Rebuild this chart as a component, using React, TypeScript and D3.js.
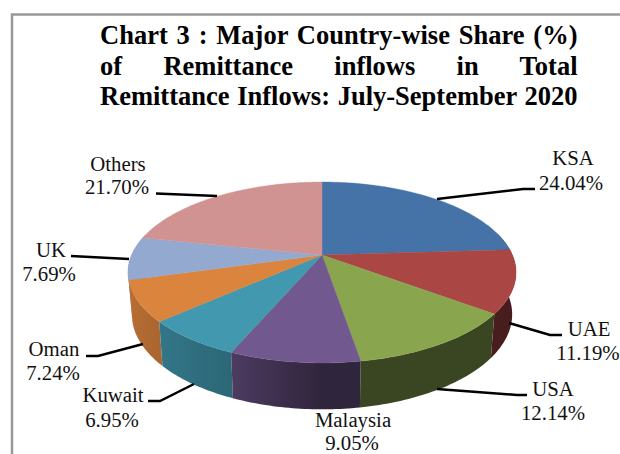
import React from "react";
import * as d3 from "d3";

const categories = ["KSA", "UAE", "USA", "Malaysia", "Kuwait", "Oman", "UK", "Others"];
const shares = [24.04, 11.19, 12.14, 9.05, 6.95, 7.24, 7.69, 21.7];
const shareLabels = ["24.04%", "11.19%", "12.14%", "9.05%", "6.95%", "7.24%", "7.69%", "21.70%"];
const colors = ["#4573a7", "#aa4644", "#89a54e", "#71588f", "#4198af", "#db843d", "#93a9cf", "#d19392"];
const titleLines = [
  "Chart 3 : Major Country-wise Share (%)",
  "of Remittance inflows in Total",
  "Remittance Inflows: July-September 2020",
];

// label placement: text centre, two baselines, leader polyline
const labelLayout: { x: number; x2: number; y1: number; y2: number; leader: [number, number][] }[] = [
  { x: 573, x2: 571, y1: 165, y2: 190, leader: [[437, 199], [523, 189], [535, 189]] },
  { x: 589, x2: 588, y1: 336, y2: 360, leader: [[509, 323], [550, 335], [562, 335]] },
  { x: 553, x2: 553, y1: 396, y2: 420, leader: [[437, 389], [517, 395], [527, 395]] },
  { x: 353, x2: 352, y1: 427, y2: 450, leader: [] },
  { x: 113, x2: 112, y1: 402, y2: 427, leader: [[194, 384], [160, 401], [148, 401]] },
  { x: 54, x2: 53, y1: 356, y2: 380, leader: [[143, 344], [98, 356], [86, 356]] },
  { x: 51, x2: 49, y1: 257, y2: 281, leader: [[129, 259], [71, 256]] },
  { x: 118, x2: 117, y1: 171, y2: 194, leader: [[217, 196], [156, 193.5]] },
];

const W = 620;
const H = 454;
const SERIF = "'Liberation Serif', serif";
const cx = 322;
const cy = 255;
const A = 190.4;
const B = 87.1;
const K = 0.193;
const DEPTH = 41;
const BOTTOM_X = 0.98;
const BOTTOM_Y = 1.05;

// perspective projection of the unit disc; angle 0 is up, clockwise
function top(a: number): [number, number] {
  const u = Math.sin(a);
  const v = -Math.cos(a);
  const w = 1 - K * v;
  return [cx + (A * u) / w, cy + (B * v) / w];
}
function bottom(a: number): [number, number] {
  const u = Math.sin(a);
  const v = -Math.cos(a);
  const w = 1 - K * v;
  return [cx + (BOTTOM_X * A * u) / w, cy + DEPTH + (BOTTOM_Y * B * v) / w];
}

const shade = d3.scaleLinear<number>().domain([-1, -0.4, 0, 1]).range([0.85, 0.68, 0.42, 0.42]);
const pieData = d3.pie<number>().sort(null).value((d) => d)(shares);
const line = d3.line();
const STEP = Math.PI / 180;
const V_MIN = -0.25;

function arcAngles(start: number, end: number): number[] {
  const n = Math.max(2, Math.ceil((end - start) / STEP));
  return d3.range(n + 1).map((i) => start + ((end - start) * i) / n);
}

function darken(c: string, f: number): string {
  const r = d3.rgb(c);
  return d3.rgb(r.r * f, r.g * f, r.b * f).formatHex();
}

function textWidth(s: string, font: string): number {
  const ctx = document.createElement("canvas").getContext("2d")!;
  ctx.font = font;
  return ctx.measureText(s).width;
}

const TITLE_X = 100;
const TITLE_W = 478;
const TITLE_SIZE = 26.5;
const LABEL_SIZE = 20.8;

export default function App() {
  const sides = pieData
    .map((p, i) => {
      const as = arcAngles(p.startAngle, p.endAngle).filter((a) => -Math.cos(a) >= V_MIN);
      if (as.length < 2) return null;
      const xs = as.map((a) => top(a)[0]);
      const x1 = d3.min(xs)!;
      const x2 = d3.max(xs)!;
      const stops = as
        .map((a) => ({
          offset: x2 > x1 ? (top(a)[0] - x1) / (x2 - x1) : 0,
          color: darken(colors[i], shade(Math.sin(a))),
        }))
        .sort((s, t) => s.offset - t.offset);
      const pts = [...as.map(top), ...as.slice().reverse().map(bottom)];
      const mid = d3.mean(as)!;
      return { i, x1, x2, stops, d: line(pts)! + "Z", v: -Math.cos(mid) };
    })
    .filter((s): s is NonNullable<typeof s> => s !== null)
    .sort((a, b) => a.v - b.v);

  const font = `bold ${TITLE_SIZE}px 'Liberation Serif'`;

  return (
    <svg width={W} height={H} style={{ position: "absolute", left: 0, top: 0, background: "#fff" }}>
      <defs>
        {sides.map((s) => (
          <linearGradient key={s.i} id={`side${s.i}`} gradientUnits="userSpaceOnUse" x1={s.x1} x2={s.x2} y1={0} y2={0}>
            {s.stops.map((st, j) => (
              <stop key={j} offset={st.offset} stopColor={st.color} />
            ))}
          </linearGradient>
        ))}
      </defs>
      <path d={`M12 ${H}V14.5H${W}`} fill="none" stroke="#999" strokeWidth={2.5} />
      {titleLines.map((t, i) => {
        const gaps = t.split(" ").length - 1;
        const ws = (TITLE_W - textWidth(t, font)) / gaps;
        return (
          <text key={i} x={TITLE_X} y={44 + i * 30.5} fontFamily={SERIF} fontWeight="bold" fontSize={TITLE_SIZE} wordSpacing={ws} fill="#000">
            {t}
          </text>
        );
      })}
      <g>
        {sides.map((s) => (
          <path key={s.i} d={s.d} fill={`url(#side${s.i})`} />
        ))}
      </g>
      <g>
        {pieData.map((p, i) => (
          <path
            key={i}
            d={line([[cx, cy], ...arcAngles(p.startAngle, p.endAngle).map(top)])! + "Z"}
            fill={colors[i]}
            stroke={colors[i]}
            strokeWidth={0.4}
          />
        ))}
      </g>
      {labelLayout.map((l, i) => (
        <g key={i}>
          {l.leader.length > 0 && <path d={line(l.leader)!} fill="none" stroke="#000" strokeWidth={2.4} />}
          <text x={l.x} y={l.y1} textAnchor="middle" fontFamily={SERIF} fontSize={LABEL_SIZE} fill="#111">
            {categories[i]}
          </text>
          <text x={l.x2} y={l.y2} textAnchor="middle" fontFamily={SERIF} fontSize={LABEL_SIZE} fill="#111">
            {shareLabels[i]}
          </text>
        </g>
      ))}
    </svg>
  );
}
